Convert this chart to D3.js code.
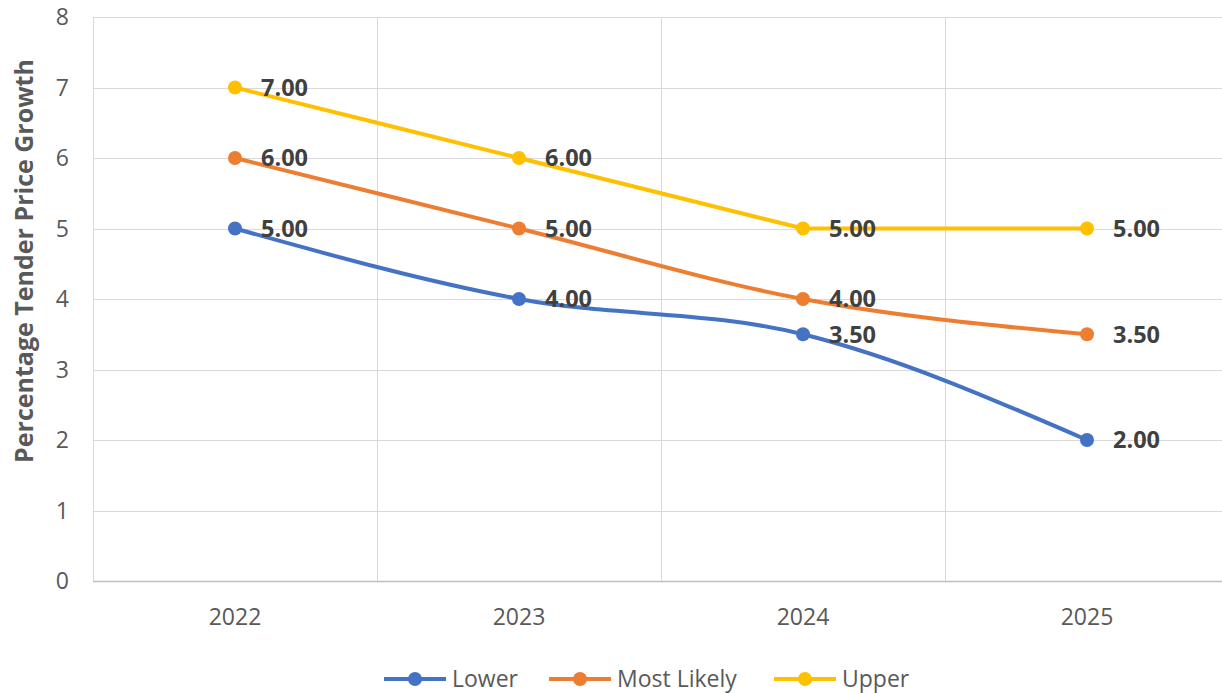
<!DOCTYPE html>
<html>
<head>
<meta charset="utf-8">
<script src="https://cdn.jsdelivr.net/npm/d3@7"></script>
<style>
  html, body { margin: 0; padding: 0; background: #fff; }
  svg { display: block; font-family: "Open Sans", Lato, sans-serif; }
</style>
</head>
<body>
<div class="line_chart"></div>
<script>
const years = ["2022", "2023", "2024", "2025"];
const seriesNames = ["Lower", "Most Likely", "Upper"];
const lowerValues = [5, 4, 3.5, 2];
const likelyValues = [6, 5, 4, 3.5];
const upperValues = [7, 6, 5, 5];
const yTicks = [0, 1, 2, 3, 4, 5, 6, 7, 8];
const colors = ["#4472C4", "#ED7D31", "#FFC000"];

const width = 1222, height = 693;
const margin = { top: 17, right: -7, bottom: 112, left: 93 };

// smoothed line roughly like the spreadsheet one: catmull-rom tangents,
// but a point where the trend flattens / turns gets one-sided tangents
function CurveSmooth(context) { this._context = context; }
CurveSmooth.prototype = {
  areaStart() { this._line = 0; },
  areaEnd() { this._line = NaN; },
  lineStart() { this._px = []; this._py = []; },
  point(x, y) { this._px.push(+x); this._py.push(+y); },
  lineEnd() {
    const px = this._px, py = this._py, n = px.length, ctx = this._context;
    if (!n) return;
    ctx.moveTo(px[0], py[0]);
    if (n === 2) { ctx.lineTo(px[1], py[1]); return; }
    // slopes (dy/dx) on left / right side of every point
    const sec = [];
    for (let i = 0; i < n - 1; i++) sec[i] = (py[i + 1] - py[i]) / (px[i + 1] - px[i]);
    const mL = [], mR = [];
    for (let i = 1; i < n - 1; i++) {
      if (sec[i - 1] * sec[i] <= 0) {
        mL[i] = sec[i - 1];
        mR[i] = sec[i];
      } else {
        mL[i] = mR[i] = (py[i + 1] - py[i - 1]) / (px[i + 1] - px[i - 1]);
      }
    }
    mR[0] = (3 * sec[0] - mL[1]) / 2;
    mL[n - 1] = (3 * sec[n - 2] - mR[n - 2]) / 2;
    for (let i = 0; i < n - 1; i++) {
      const h = (px[i + 1] - px[i]) / 3;
      ctx.bezierCurveTo(px[i] + h, py[i] + mR[i] * h, px[i + 1] - h, py[i + 1] - mL[i + 1] * h, px[i + 1], py[i + 1]);
    }
  }
};
const curveSmooth = context => new CurveSmooth(context);

const svg = d3.select(".line_chart")
  .append("svg")
  .attr("width", width)
  .attr("height", height);

const x = d3.scaleBand()
  .domain(years)
  .range([margin.left, width - margin.right]);

const y = d3.scaleLinear()
  .domain([0, 8])
  .range([height - margin.bottom, margin.top]);

// horizontal grid
svg.append("g")
  .selectAll("line")
  .data(yTicks)
  .join("line")
  .attr("x1", margin.left)
  .attr("x2", width - margin.right)
  .attr("y1", d => Math.round(y(d)) + 0.5)
  .attr("y2", d => Math.round(y(d)) + 0.5)
  .attr("stroke", d => d === 0 ? "#bfbfbf" : "#d9d9d9")
  .attr("stroke-width", d => d === 0 ? 1.5 : 1);

// vertical grid at category boundaries
svg.append("g")
  .selectAll("line")
  .data(years)
  .join("line")
  .attr("x1", d => Math.round(x(d)) + 0.5)
  .attr("x2", d => Math.round(x(d)) + 0.5)
  .attr("y1", y(8))
  .attr("y2", y(0))
  .attr("stroke", "#d9d9d9");

// y tick labels
svg.append("g")
  .selectAll("text")
  .data(yTicks)
  .join("text")
  .attr("x", 69)
  .attr("y", d => y(d))
  .attr("dy", "0.36em")
  .attr("text-anchor", "end")
  .attr("font-size", 23)
  .attr("fill", "#595959")
  .text(d => d);

// x tick labels
svg.append("g")
  .selectAll("text")
  .data(years)
  .join("text")
  .attr("x", d => x(d) + x.bandwidth() / 2)
  .attr("y", 625)
  .attr("text-anchor", "middle")
  .attr("font-size", 23)
  .attr("fill", "#595959")
  .text(d => d);

// y axis title
svg.append("text")
  .attr("transform", "translate(33,261) rotate(-90)")
  .attr("text-anchor", "middle")
  .attr("font-size", 25)
  .attr("font-weight", "bold")
  .attr("fill", "#595959")
  .text("Percentage Tender Price Growth");

const series = [lowerValues, likelyValues, upperValues].map((vals, i) => ({
  name: seriesNames[i],
  color: colors[i],
  points: vals.map((v, j) => ({ year: years[j], value: v }))
}));

const line = d3.line()
  .x(d => x(d.year) + x.bandwidth() / 2)
  .y(d => y(d.value))
  .curve(curveSmooth);

const g = svg.append("g")
  .selectAll("g")
  .data(series)
  .join("g");

g.append("path")
  .attr("d", d => line(d.points))
  .attr("fill", "none")
  .attr("stroke", d => d.color)
  .attr("stroke-width", 4)
  .attr("stroke-linejoin", "round");

g.selectAll("circle")
  .data(d => d.points.map(p => ({ ...p, color: d.color })))
  .join("circle")
  .attr("cx", d => x(d.year) + x.bandwidth() / 2)
  .attr("cy", d => y(d.value))
  .attr("r", 7)
  .attr("fill", d => d.color);

// data labels
g.selectAll("text")
  .data(d => d.points)
  .join("text")
  .attr("x", d => x(d.year) + x.bandwidth() / 2 + 26)
  .attr("y", d => y(d.value))
  .attr("dy", "0.36em")
  .attr("font-size", 23.5)
  .attr("font-weight", "bold")
  .attr("fill", "#404040")
  .text(d => d3.format(".2f")(d.value));

// legend
const legendX = [384, 549, 774];
const legend = svg.append("g")
  .selectAll("g")
  .data(series)
  .join("g")
  .attr("transform", (d, i) => "translate(" + legendX[i] + ",679)");

legend.append("line")
  .attr("x1", 0).attr("x2", 62)
  .attr("stroke", d => d.color)
  .attr("stroke-width", 4);

legend.append("circle")
  .attr("cx", 31)
  .attr("r", 7)
  .attr("fill", d => d.color);

legend.append("text")
  .attr("x", 68)
  .attr("dy", "0.36em")
  .attr("font-size", 23)
  .attr("fill", "#595959")
  .text(d => d.name);
</script>
</body>
</html>
